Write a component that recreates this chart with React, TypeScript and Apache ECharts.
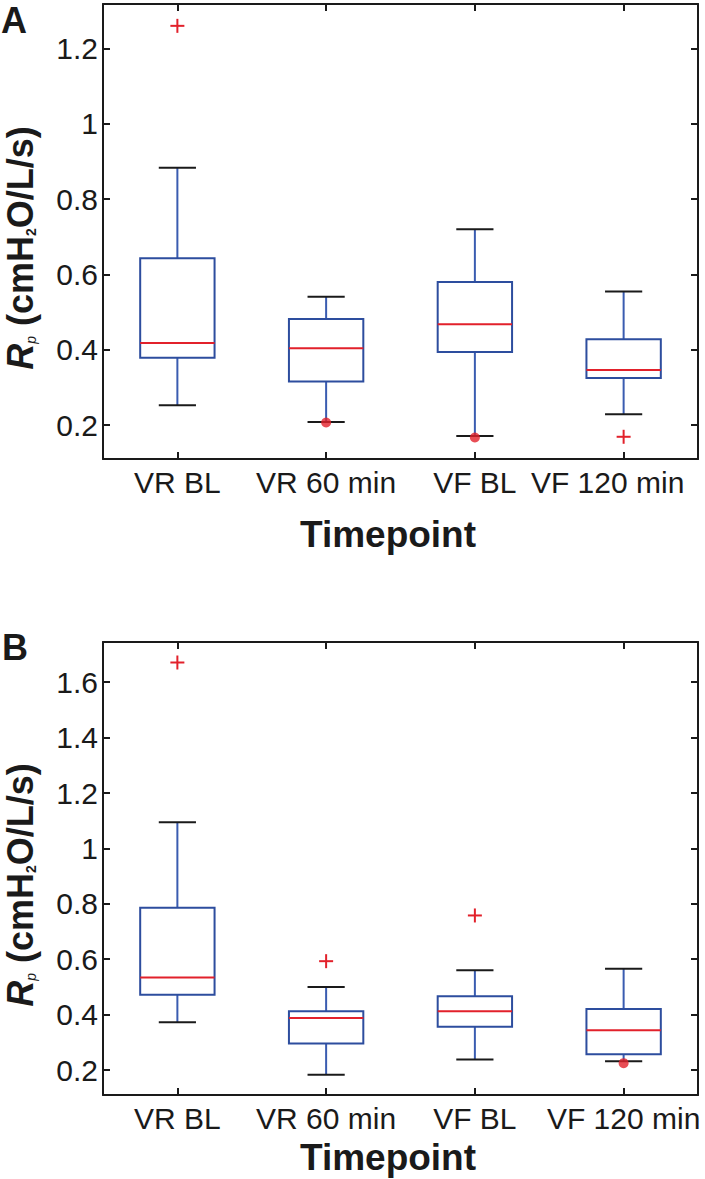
import React, { useEffect, useRef } from "react";
import * as echarts from "echarts";

const categories = ["VR BL", "VR 60 min", "VF BL", "VF 120 min"];

// Panel A
const lowA = [0.253, 0.208, 0.171, 0.229];
const q1A = [0.379, 0.316, 0.394, 0.325];
const medA = [0.418, 0.404, 0.468, 0.346];
const q3A = [0.643, 0.482, 0.58, 0.428];
const highA = [0.883, 0.541, 0.72, 0.555];
const plusA = [[0, 1.26], [3, 0.169]];
const dotsA = [[1, 0.207], [2, 0.167]];
const yRangeA = [0.11, 1.318];

// Panel B
const lowB = [0.373, 0.183, 0.238, 0.232];
const q1B = [0.472, 0.296, 0.356, 0.257];
const medB = [0.534, 0.388, 0.412, 0.344];
const q3B = [0.786, 0.412, 0.466, 0.42];
const highB = [1.094, 0.5, 0.56, 0.566];
const plusB = [[0, 1.671], [1, 0.593], [2, 0.758]];
const dotsB = [[3, 0.225]];
const yRangeB = [0.11, 1.745];

const FONT = "'Liberation Sans', Arial, Helvetica, sans-serif";
const BLUE = "#2d4d9e";
const WBLUE = "#3a5cb0";
const RED = "#e2212b";
const BLACK = "#1a1a1a";

function boxRows(lo: number[], q1: number[], med: number[], q3: number[], hi: number[]) {
  return categories.map((_, i) => [i, lo[i], q1[i], med[i], q3[i], hi[i]]);
}

function renderBox(params: any, api: any) {
  const i = api.value(0);
  const lo = api.value(1), q1 = api.value(2), md = api.value(3), q3 = api.value(4), hi = api.value(5);
  const cx = api.coord([i, lo])[0];
  const band = api.size([1, 0])[0];
  const hw = band * 0.25;
  const cw = band * 0.125;
  const y = (v: number) => api.coord([i, v])[1];
  const line = (x1: number, y1: number, x2: number, y2: number, color: string, w = 2) => ({
    type: "line",
    shape: { x1, y1, x2, y2 },
    style: { stroke: color, lineWidth: w },
  });
  return {
    type: "group",
    children: [
      line(cx, y(q3), cx, y(hi), WBLUE),
      line(cx, y(lo), cx, y(q1), WBLUE),
      line(cx - cw, y(hi), cx + cw, y(hi), BLACK),
      line(cx - cw, y(lo), cx + cw, y(lo), BLACK),
      {
        type: "rect",
        shape: { x: cx - hw, y: y(q3), width: hw * 2, height: y(q1) - y(q3) },
        style: { fill: "none", stroke: BLUE, lineWidth: 2 },
      },
      line(cx - hw, y(md), cx + hw, y(md), RED),
    ],
  };
}

function renderPlus(params: any, api: any) {
  const p = api.coord([api.value(0), api.value(1)]);
  const s = 7;
  return {
    type: "group",
    children: [
      { type: "line", shape: { x1: p[0] - s, y1: p[1], x2: p[0] + s, y2: p[1] }, style: { stroke: RED, lineWidth: 2 } },
      { type: "line", shape: { x1: p[0], y1: p[1] - s, x2: p[0], y2: p[1] + s }, style: { stroke: RED, lineWidth: 2 } },
    ],
  };
}

const axisLineStyle = { lineStyle: { color: BLACK, width: 2 } };

function xAxes(gridIndex: number, shiftLast: boolean) {
  return [
    {
      type: "category",
      gridIndex,
      data: categories,
      position: "bottom",
      boundaryGap: true,
      axisLine: axisLineStyle,
      axisTick: { show: true, inside: true, alignWithLabel: true, length: 7, lineStyle: { color: BLACK, width: 2 } },
      axisLabel: {
        color: BLACK,
        fontFamily: FONT,
        fontSize: 30,
        margin: 8,
        interval: 0,
        formatter: (v: string, idx: number) => (shiftLast && idx === categories.length - 1 ? "{s|" + v + "}" : v),
        rich: { s: { fontFamily: FONT, fontSize: 30, color: BLACK, padding: [0, 32, 0, 0] } },
      },
      splitLine: { show: false },
    },
    {
      type: "category",
      gridIndex,
      data: categories,
      position: "top",
      boundaryGap: true,
      axisLine: axisLineStyle,
      axisTick: { show: true, inside: true, alignWithLabel: true, length: 7, lineStyle: { color: BLACK, width: 2 } },
      axisLabel: { show: false },
      splitLine: { show: false },
    },
  ];
}

function yAxes(gridIndex: number, range: number[]) {
  const base = {
    type: "value",
    gridIndex,
    min: range[0],
    max: range[1],
    minInterval: 0.2,
    maxInterval: 0.2,
    axisLine: { show: true, ...axisLineStyle },
    axisTick: { show: true, inside: true, length: 7, lineStyle: { color: BLACK, width: 2 } },
    splitLine: { show: false },
  };
  return [
    {
      ...base,
      position: "left",
      axisLabel: { color: BLACK, fontFamily: FONT, fontSize: 30, margin: 5, showMinLabel: false, showMaxLabel: false },
    },
    { ...base, position: "right", axisLabel: { show: false } },
  ];
}

function yTitle(cx: number, cy: number) {
  return {
    type: "text",
    x: cx,
    y: cy,
    rotation: Math.PI / 2,
    style: {
      text: "{r|R}{p|p}{n| (cmH}{s|2}{n|O/L/s)}",
      align: "center",
      verticalAlign: "middle",
      textAlign: "center",
      textVerticalAlign: "middle",
      fill: BLACK,
      rich: {
        r: { fontFamily: FONT, fontSize: 36, fontWeight: "bold", fontStyle: "italic", lineHeight: 36, fill: BLACK },
        p: { fontFamily: FONT, fontSize: 14, fontStyle: "italic", lineHeight: 8, verticalAlign: "bottom", fill: BLACK },
        n: { fontFamily: FONT, fontSize: 36, fontWeight: "bold", lineHeight: 36, fill: BLACK },
        s: { fontFamily: FONT, fontSize: 14, fontWeight: "bold", lineHeight: 8, verticalAlign: "bottom", fill: BLACK },
      },
    },
  };
}

function textEl(text: string, x: number, y: number, size: number) {
  return {
    type: "text",
    x,
    y,
    style: {
      text,
      fontFamily: FONT,
      fontSize: size,
      fontWeight: "bold",
      fill: BLACK,
      align: "center",
      verticalAlign: "middle",
      textAlign: "center",
      textVerticalAlign: "middle",
    },
  };
}

export default function App() {
  const ref = useRef<HTMLDivElement>(null);
  useEffect(() => {
    if (!ref.current) return;
    const chart = echarts.init(ref.current, undefined, { renderer: "svg" });
    const option: any = {
      animation: false,
      backgroundColor: "#ffffff",
      grid: [
        { left: 103, top: 4, width: 595, height: 455 },
        { left: 103, top: 642, width: 595, height: 453 },
      ],
      xAxis: [...xAxes(0, true), ...xAxes(1, false)],
      yAxis: [...yAxes(0, yRangeA), ...yAxes(1, yRangeB)],
      series: [
        {
          type: "custom",
          xAxisIndex: 0,
          yAxisIndex: 0,
          data: boxRows(lowA, q1A, medA, q3A, highA),
          encode: { x: 0, y: [1, 2, 3, 4, 5] },
          renderItem: renderBox,
          z: 3,
        },
        { type: "custom", xAxisIndex: 0, yAxisIndex: 0, data: plusA, encode: { x: 0, y: 1 }, renderItem: renderPlus, z: 4 },
        {
          type: "scatter",
          xAxisIndex: 0,
          yAxisIndex: 0,
          data: dotsA,
          symbol: "circle",
          symbolSize: 10,
          itemStyle: { color: RED },
          z: 5,
        },
        {
          type: "custom",
          xAxisIndex: 2,
          yAxisIndex: 2,
          data: boxRows(lowB, q1B, medB, q3B, highB),
          encode: { x: 0, y: [1, 2, 3, 4, 5] },
          renderItem: renderBox,
          z: 3,
        },
        { type: "custom", xAxisIndex: 2, yAxisIndex: 2, data: plusB, encode: { x: 0, y: 1 }, renderItem: renderPlus, z: 4 },
        {
          type: "scatter",
          xAxisIndex: 2,
          yAxisIndex: 2,
          data: dotsB,
          symbol: "circle",
          symbolSize: 10,
          itemStyle: { color: RED },
          z: 5,
        },
      ],
      graphic: [
        textEl("A", 14, 20, 36),
        textEl("B", 15, 647, 36),
        textEl("Timepoint", 388, 534, 37),
        textEl("Timepoint", 388, 1157, 37),
        yTitle(20, 248),
        yTitle(20, 885),
      ],
    };
    chart.setOption(option);
    return () => chart.dispose();
  }, []);
  return <div ref={ref} style={{ position: "absolute", left: 0, top: 0, width: 705, height: 1179 }} />;
}
